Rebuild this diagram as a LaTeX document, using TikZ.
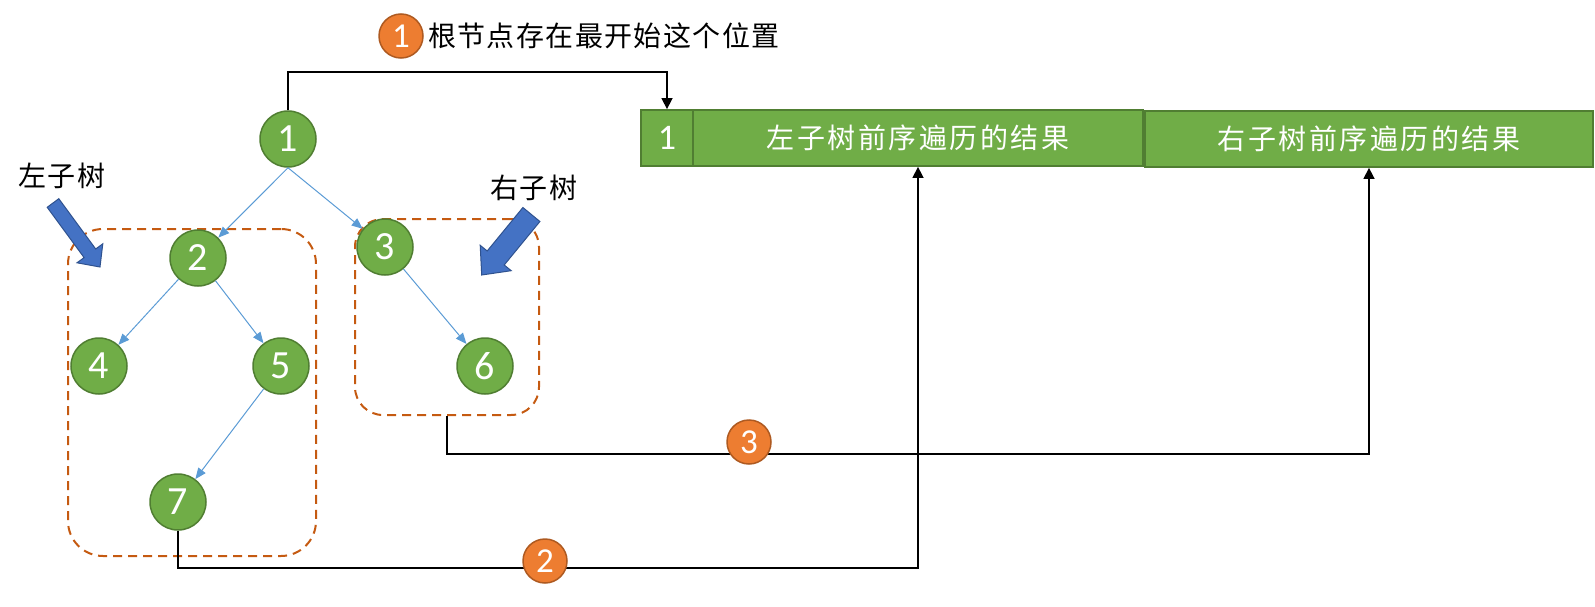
\documentclass[tikz,border=0pt]{standalone}
\usepackage{fontspec}
\setmainfont{Carlito}
\newfontfamily\cjk[LetterSpace=5]{Noto Sans CJK SC}
\newfontfamily\cjkbox[LetterSpace=9]{Noto Sans CJK SC}
\usetikzlibrary{arrows.meta}
\definecolor{tgreen}{HTML}{70AD47}
\definecolor{tgreenb}{HTML}{507E32}
\definecolor{tblue}{HTML}{5B9BD5}
\definecolor{torange}{HTML}{ED7D31}
\definecolor{torangeb}{HTML}{AE5A21}
\definecolor{tdash}{HTML}{C55A11}
\definecolor{barrow}{HTML}{4472C4}
\definecolor{barrowb}{HTML}{2F528F}
\begin{document}
\begin{tikzpicture}[x=1pt,y=-1pt,
 tnode/.style={circle,fill=tgreen,draw=tgreenb,line width=1.5pt,minimum size=56pt,inner sep=0pt,text=white,font=\fontsize{40}{40}\selectfont},
 onode/.style={circle,fill=torange,draw=torangeb,line width=1.5pt,minimum size=44pt,inner sep=0pt,text=white,font=\fontsize{35}{35}\selectfont},
 boxcell/.style={rectangle,fill=tgreen,draw=tgreenb,line width=1.8pt,minimum height=56pt,inner sep=0pt,text=white},
 treeedge/.style={tblue,line width=1pt,-{Triangle[length=11pt,width=9pt]}},
 conn/.style={black,line width=1.5pt,-{Triangle[length=11pt,width=11pt]}},
 region/.style={draw=tdash,dash pattern=on 9pt off 6pt,line width=2pt,rectangle,inner sep=0pt},
 cjklabel/.style={font=\cjk\fontsize{28}{28}\selectfont,inner sep=0pt},
 blockarrow/.style={fill=barrow,draw=barrowb,line width=1pt}]
\useasboundingbox (0,0) rectangle (1595,607);

% dashed regions
\node[region,rounded corners=35pt,minimum width=248pt,minimum height=327pt] (lbox) at (192,392.5) {};
\node[region,rounded corners=28pt,minimum width=184pt,minimum height=196pt] (rbox) at (447,317) {};

% tree nodes
\node[tnode] (n1) at (288,139) {1};
\node[tnode] (n2) at (198,258) {2};
\node[tnode] (n3) at (385,247) {3};
\node[tnode] (n4) at (99,366) {4};
\node[tnode] (n5) at (281,366) {5};
\node[tnode] (n6) at (485,366) {6};
\node[tnode] (n7) at (178,502) {7};

% result array
\node[boxcell,minimum width=52pt,font=\fontsize{36}{36}\selectfont] (b1) at (667,138) {1};
\node[boxcell,minimum width=450pt,font=\cjkbox\fontsize{28}{28}\selectfont] (bl) at (918,138) {左子树前序遍历的结果};
\node[boxcell,minimum width=448pt,font=\cjkbox\fontsize{28}{28}\selectfont] (br) at (1369,139) {右子树前序遍历的结果};

% tree edges
\draw[treeedge] (n1.south) -- (n2);
\draw[treeedge] (n1.south) -- (n3);
\draw[treeedge] (n2) -- (n4);
\draw[treeedge] (n2) -- (n5);
\draw[treeedge] (n5) -- (n7);
\draw[treeedge] (n3) -- (n6);

% connectors
\draw[conn] (n1.north) -- ++(0,-38) -| (b1.north);
\draw[conn] (n7.south) -- ++(0,37) -| (bl.south);
\draw[conn] (rbox.south) -- ++(0,38) -| (br.south);

% orange markers
\node[onode] (o1) at (401,36) {1};
\node[onode] (o2) at (545,561) {2};
\node[onode] (o3) at (749,442) {3};

% labels
\node[cjklabel,anchor=west] (t1) at (428,36) {根节点存在最开始这个位置};
\node[cjklabel] (t2) at (62,176) {左子树};
\node[cjklabel] (t3) at (534,188) {右子树};

% block arrows
\draw[blockarrow] (58.8,198.7) -- (95.7,249.0) -- (102.8,243.8) -- (100,267) -- (77.0,262.8) -- (84.1,257.6) -- (47.2,207.3) -- cycle;
\draw[blockarrow] (539.9,221.5) -- (504.2,265.0) -- (511.2,270.7) -- (481.7,275) -- (480.2,245.3) -- (487.2,251.0) -- (522.9,207.5) -- cycle;
\end{tikzpicture}
\end{document}
